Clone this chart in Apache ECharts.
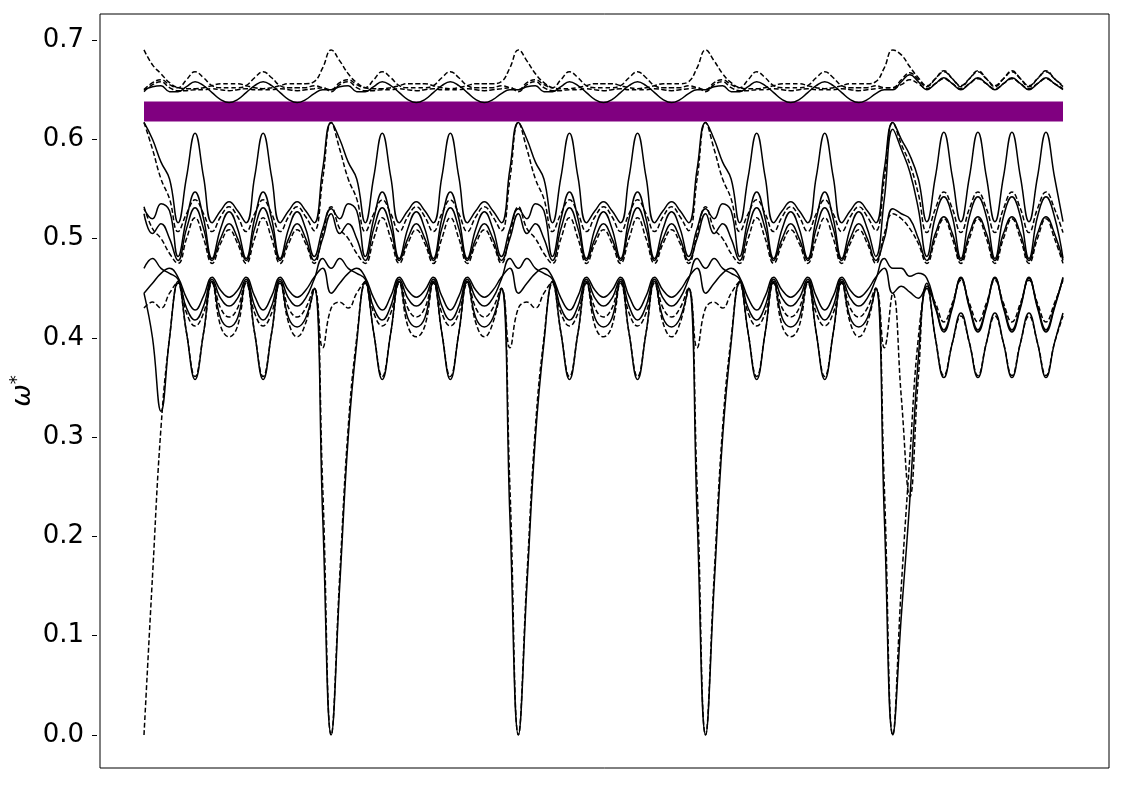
<!DOCTYPE html>
<html>
<head>
<meta charset="utf-8">
<script src="https://cdn.jsdelivr.net/npm/echarts@6/dist/echarts.min.js"></script>
<style>
html,body{margin:0;padding:0;background:#fff;}
#c{width:1125px;height:785px;}
</style>
</head>
<body>
<div id="c"></div>
<script>
// k-path sample index (Γ at 0, 22, 44, 66, 88)
const kPoints = [0,1,2,3,4,5,6,7,8,9,10,11,12,13,14,15,16,17,18,19,20,21,22,23,24,25,26,27,28,29,30,31,32,33,34,35,36,37,38,39,40,41,42,43,44,45,46,47,48,49,50,51,52,53,54,55,56,57,58,59,60,61,62,63,64,65,66,67,68,69,70,71,72,73,74,75,76,77,78,79,80,81,82,83,84,85,86,87,88,89,90,91,92,93,94,95,96,97,98,99,100,101,102,103,104,105,106,107,108];

const yTicks = [0.0, 0.1, 0.2, 0.3, 0.4, 0.5, 0.6, 0.7];
const bandGap = [0.618, 0.638];

// ---- upper bands ----
const U1 = [
0.650,0.653,0.654,0.648,0.648,0.653,0.658,0.654,0.647,0.640,0.637,0.640,0.647,0.654,0.658,0.654,0.647,0.640,0.637,0.640,0.646,0.650,
0.650,0.653,0.654,0.648,0.648,0.653,0.658,0.654,0.647,0.640,0.637,0.640,0.647,0.654,0.658,0.654,0.647,0.640,0.637,0.640,0.646,0.650,
0.650,0.653,0.654,0.648,0.648,0.653,0.658,0.654,0.647,0.640,0.637,0.640,0.647,0.654,0.658,0.654,0.647,0.640,0.637,0.640,0.646,0.650,
0.650,0.653,0.654,0.648,0.648,0.653,0.658,0.654,0.647,0.640,0.637,0.640,0.647,0.654,0.658,0.654,0.647,0.640,0.637,0.640,0.646,0.650,
0.650,0.658,0.665,0.658,0.650,0.656,0.662,0.656,0.650,0.656,0.662,0.656,0.650,0.656,0.662,0.656,0.650,0.656,0.662,0.656,0.650];
const U2 = [
0.650,0.657,0.660,0.655,0.652,0.660,0.668,0.662,0.654,0.652,0.652,0.652,0.654,0.662,0.668,0.662,0.654,0.652,0.652,0.652,0.654,0.652,
0.650,0.657,0.660,0.655,0.652,0.660,0.668,0.662,0.654,0.652,0.652,0.652,0.654,0.662,0.668,0.662,0.654,0.652,0.652,0.652,0.654,0.652,
0.650,0.657,0.660,0.655,0.652,0.660,0.668,0.662,0.654,0.652,0.652,0.652,0.654,0.662,0.668,0.662,0.654,0.652,0.652,0.652,0.654,0.652,
0.650,0.657,0.660,0.655,0.652,0.660,0.668,0.662,0.654,0.652,0.652,0.652,0.654,0.662,0.668,0.662,0.654,0.652,0.652,0.652,0.654,0.652,
0.652,0.660,0.667,0.660,0.653,0.661,0.669,0.661,0.653,0.661,0.669,0.661,0.653,0.661,0.669,0.661,0.653,0.661,0.669,0.661,0.653];
const U3 = [
0.690,0.675,0.666,0.657,0.652,0.651,0.651,0.652,0.654,0.656,0.656,0.656,0.654,0.652,0.651,0.652,0.654,0.656,0.656,0.656,0.658,0.672,
0.690,0.679,0.666,0.657,0.652,0.651,0.651,0.652,0.654,0.656,0.656,0.656,0.654,0.652,0.651,0.652,0.654,0.656,0.656,0.656,0.658,0.672,
0.690,0.679,0.666,0.657,0.652,0.651,0.651,0.652,0.654,0.656,0.656,0.656,0.654,0.652,0.651,0.652,0.654,0.656,0.656,0.656,0.658,0.672,
0.690,0.679,0.666,0.657,0.652,0.651,0.651,0.652,0.654,0.656,0.656,0.656,0.654,0.652,0.651,0.652,0.654,0.656,0.656,0.656,0.658,0.672,
0.690,0.685,0.673,0.662,0.654,0.661,0.668,0.661,0.654,0.661,0.668,0.661,0.654,0.661,0.668,0.661,0.654,0.661,0.668,0.661,0.654];
const U4 = [
0.648,0.655,0.658,0.652,0.649,0.649,0.650,0.650,0.651,0.650,0.649,0.650,0.651,0.650,0.650,0.650,0.651,0.650,0.649,0.650,0.651,0.652,
0.648,0.655,0.658,0.652,0.649,0.649,0.650,0.650,0.651,0.650,0.649,0.650,0.651,0.650,0.650,0.650,0.651,0.650,0.649,0.650,0.651,0.652,
0.648,0.655,0.658,0.652,0.649,0.649,0.650,0.650,0.651,0.650,0.649,0.650,0.651,0.650,0.650,0.650,0.651,0.650,0.649,0.650,0.651,0.652,
0.648,0.655,0.658,0.652,0.649,0.649,0.650,0.650,0.651,0.650,0.649,0.650,0.651,0.650,0.650,0.650,0.651,0.650,0.649,0.650,0.651,0.652,
0.652,0.655,0.660,0.656,0.651,0.656,0.661,0.656,0.651,0.656,0.661,0.656,0.651,0.656,0.661,0.656,0.651,0.656,0.661,0.656,0.651];

// ---- middle bands ----
const T = [
0.617,0.600,0.577,0.560,0.516,0.562,0.606,0.562,0.516,0.528,0.537,0.528,0.516,0.562,0.606,0.562,0.516,0.528,0.537,0.528,0.516,0.570,
0.617,0.600,0.577,0.560,0.516,0.562,0.606,0.562,0.516,0.528,0.537,0.528,0.516,0.562,0.606,0.562,0.516,0.528,0.537,0.528,0.516,0.570,
0.617,0.600,0.577,0.560,0.516,0.562,0.606,0.562,0.516,0.528,0.537,0.528,0.516,0.562,0.606,0.562,0.516,0.528,0.537,0.528,0.516,0.570,
0.617,0.600,0.577,0.560,0.516,0.562,0.606,0.562,0.516,0.528,0.537,0.528,0.516,0.562,0.606,0.562,0.516,0.528,0.537,0.528,0.516,0.570,
0.617,0.600,0.584,0.560,0.517,0.562,0.607,0.562,0.517,0.562,0.607,0.562,0.517,0.562,0.607,0.562,0.517,0.562,0.607,0.562,0.517];
const A = [
0.617,0.590,0.560,0.540,0.507,0.525,0.539,0.525,0.507,0.522,0.532,0.522,0.507,0.525,0.539,0.525,0.507,0.522,0.532,0.522,0.508,0.560,
0.617,0.590,0.560,0.540,0.507,0.525,0.539,0.525,0.507,0.522,0.532,0.522,0.507,0.525,0.539,0.525,0.507,0.522,0.532,0.522,0.508,0.560,
0.617,0.590,0.560,0.540,0.507,0.525,0.539,0.525,0.507,0.522,0.532,0.522,0.507,0.525,0.539,0.525,0.507,0.522,0.532,0.522,0.508,0.560,
0.617,0.590,0.560,0.540,0.507,0.525,0.539,0.525,0.507,0.522,0.532,0.522,0.507,0.525,0.539,0.525,0.507,0.522,0.532,0.522,0.508,0.560,
0.617,0.595,0.575,0.545,0.506,0.530,0.547,0.530,0.506,0.530,0.547,0.530,0.506,0.530,0.547,0.530,0.506,0.530,0.547,0.530,0.506];
const B = [
0.530,0.520,0.535,0.528,0.482,0.520,0.547,0.520,0.480,0.510,0.527,0.510,0.480,0.520,0.547,0.520,0.480,0.510,0.527,0.510,0.482,0.510,
0.530,0.520,0.535,0.528,0.482,0.520,0.547,0.520,0.480,0.510,0.527,0.510,0.480,0.520,0.547,0.520,0.480,0.510,0.527,0.510,0.482,0.510,
0.530,0.520,0.535,0.528,0.482,0.520,0.547,0.520,0.480,0.510,0.527,0.510,0.480,0.520,0.547,0.520,0.480,0.510,0.527,0.510,0.482,0.510,
0.530,0.520,0.535,0.528,0.482,0.520,0.547,0.520,0.480,0.510,0.527,0.510,0.480,0.520,0.547,0.520,0.480,0.510,0.527,0.510,0.482,0.540,
0.610,0.590,0.567,0.530,0.482,0.522,0.542,0.522,0.480,0.522,0.542,0.522,0.480,0.522,0.542,0.522,0.480,0.522,0.542,0.522,0.480];
const E = [
0.525,0.505,0.515,0.500,0.478,0.510,0.531,0.510,0.478,0.500,0.515,0.500,0.478,0.510,0.531,0.510,0.478,0.500,0.515,0.500,0.478,0.500,
0.525,0.505,0.515,0.500,0.478,0.510,0.531,0.510,0.478,0.500,0.515,0.500,0.478,0.510,0.531,0.510,0.478,0.500,0.515,0.500,0.478,0.500,
0.525,0.505,0.515,0.500,0.478,0.510,0.531,0.510,0.478,0.500,0.515,0.500,0.478,0.510,0.531,0.510,0.478,0.500,0.515,0.500,0.478,0.500,
0.525,0.505,0.515,0.500,0.478,0.510,0.531,0.510,0.478,0.500,0.515,0.500,0.478,0.510,0.531,0.510,0.478,0.500,0.515,0.500,0.478,0.500,
0.530,0.525,0.520,0.500,0.478,0.505,0.522,0.505,0.478,0.505,0.522,0.505,0.478,0.505,0.522,0.505,0.478,0.505,0.522,0.505,0.478];
const C = [
0.532,0.510,0.500,0.485,0.475,0.500,0.521,0.500,0.475,0.495,0.509,0.495,0.475,0.500,0.521,0.500,0.475,0.495,0.509,0.495,0.475,0.505,
0.532,0.510,0.500,0.485,0.475,0.500,0.521,0.500,0.475,0.495,0.509,0.495,0.475,0.500,0.521,0.500,0.475,0.495,0.509,0.495,0.475,0.505,
0.532,0.510,0.500,0.485,0.475,0.500,0.521,0.500,0.475,0.495,0.509,0.495,0.475,0.500,0.521,0.500,0.475,0.495,0.509,0.495,0.475,0.505,
0.532,0.510,0.500,0.485,0.475,0.500,0.521,0.500,0.475,0.495,0.509,0.495,0.475,0.500,0.521,0.500,0.475,0.495,0.509,0.495,0.475,0.505,
0.525,0.520,0.510,0.495,0.475,0.500,0.520,0.500,0.475,0.500,0.520,0.500,0.475,0.500,0.520,0.500,0.475,0.500,0.520,0.500,0.475];

// ---- lower bands ----
const L1 = [
0.445,0.455,0.465,0.470,0.461,0.440,0.428,0.442,0.461,0.448,0.441,0.448,0.461,0.442,0.428,0.442,0.461,0.448,0.441,0.448,0.461,0.470,
0.445,0.455,0.465,0.470,0.461,0.440,0.428,0.442,0.461,0.448,0.441,0.448,0.461,0.442,0.428,0.442,0.461,0.448,0.441,0.448,0.461,0.470,
0.445,0.455,0.465,0.470,0.461,0.440,0.428,0.442,0.461,0.448,0.441,0.448,0.461,0.442,0.428,0.442,0.461,0.448,0.441,0.448,0.461,0.470,
0.445,0.455,0.465,0.470,0.461,0.440,0.428,0.442,0.461,0.448,0.441,0.448,0.461,0.442,0.428,0.442,0.461,0.448,0.441,0.448,0.461,0.470,
0.445,0.452,0.446,0.440,0.452,0.430,0.406,0.430,0.461,0.430,0.406,0.430,0.461,0.430,0.406,0.430,0.461,0.430,0.406,0.430,0.461];
const L2 = [
0.470,0.480,0.470,0.465,0.459,0.430,0.418,0.432,0.459,0.440,0.432,0.440,0.459,0.432,0.418,0.432,0.459,0.440,0.432,0.440,0.459,0.480,
0.470,0.480,0.470,0.465,0.459,0.430,0.418,0.432,0.459,0.440,0.432,0.440,0.459,0.432,0.418,0.432,0.459,0.440,0.432,0.440,0.459,0.480,
0.470,0.480,0.470,0.465,0.459,0.430,0.418,0.432,0.459,0.440,0.432,0.440,0.459,0.432,0.418,0.432,0.459,0.440,0.432,0.440,0.459,0.480,
0.470,0.480,0.470,0.465,0.459,0.430,0.418,0.432,0.459,0.440,0.432,0.440,0.459,0.432,0.418,0.432,0.459,0.440,0.432,0.440,0.459,0.480,
0.470,0.470,0.462,0.465,0.460,0.432,0.408,0.432,0.460,0.432,0.408,0.432,0.460,0.432,0.408,0.432,0.460,0.432,0.408,0.432,0.460];
const L3 = [
0.430,0.436,0.430,0.445,0.456,0.425,0.412,0.425,0.456,0.430,0.421,0.430,0.456,0.425,0.412,0.425,0.456,0.430,0.421,0.430,0.450,0.390,
0.430,0.436,0.430,0.445,0.456,0.425,0.412,0.425,0.456,0.430,0.421,0.430,0.456,0.425,0.412,0.425,0.456,0.430,0.421,0.430,0.450,0.390,
0.430,0.436,0.430,0.445,0.456,0.425,0.412,0.425,0.456,0.430,0.421,0.430,0.456,0.425,0.412,0.425,0.456,0.430,0.421,0.430,0.450,0.390,
0.430,0.436,0.430,0.445,0.456,0.425,0.412,0.425,0.456,0.430,0.421,0.430,0.456,0.425,0.412,0.425,0.456,0.430,0.421,0.430,0.450,0.390,
0.445,0.340,0.240,0.360,0.450,0.435,0.416,0.435,0.458,0.435,0.416,0.435,0.458,0.435,0.416,0.435,0.458,0.435,0.416,0.435,0.458];
const L4 = [
0.445,0.400,0.326,0.400,0.457,0.405,0.358,0.405,0.457,0.420,0.411,0.420,0.457,0.405,0.358,0.405,0.457,0.420,0.411,0.420,0.450,0.220,
0.000,0.150,0.300,0.395,0.457,0.405,0.358,0.405,0.457,0.420,0.411,0.420,0.457,0.405,0.358,0.405,0.457,0.420,0.411,0.420,0.450,0.220,
0.000,0.150,0.300,0.395,0.457,0.405,0.358,0.405,0.457,0.420,0.411,0.420,0.457,0.405,0.358,0.405,0.457,0.420,0.411,0.420,0.450,0.220,
0.000,0.150,0.300,0.395,0.457,0.405,0.358,0.405,0.457,0.420,0.411,0.420,0.457,0.405,0.358,0.405,0.457,0.420,0.411,0.420,0.450,0.220,
0.000,0.120,0.237,0.380,0.455,0.400,0.360,0.395,0.425,0.395,0.360,0.395,0.425,0.395,0.360,0.395,0.425,0.395,0.360,0.395,0.425];
const L5 = [
0.000,0.160,0.310,0.400,0.455,0.405,0.361,0.405,0.455,0.412,0.401,0.412,0.455,0.405,0.361,0.405,0.455,0.415,0.401,0.415,0.450,0.250,
0.000,0.160,0.310,0.400,0.455,0.405,0.361,0.405,0.455,0.412,0.401,0.412,0.455,0.405,0.361,0.405,0.455,0.415,0.401,0.415,0.450,0.250,
0.000,0.160,0.310,0.400,0.455,0.405,0.361,0.405,0.455,0.412,0.401,0.412,0.455,0.405,0.361,0.405,0.455,0.415,0.401,0.415,0.450,0.250,
0.000,0.160,0.310,0.400,0.455,0.405,0.361,0.405,0.455,0.412,0.401,0.412,0.455,0.405,0.361,0.405,0.455,0.415,0.401,0.415,0.450,0.250,
0.000,0.150,0.280,0.400,0.450,0.400,0.362,0.395,0.422,0.395,0.362,0.395,0.422,0.395,0.362,0.395,0.422,0.395,0.362,0.395,0.422];

const bands = [
  {name:'U1', data:U1, dashed:false},
  {name:'U2', data:U2, dashed:true},
  {name:'U3', data:U3, dashed:true},
  {name:'U4', data:U4, dashed:true},
  {name:'T',  data:T,  dashed:false},
  {name:'A',  data:A,  dashed:true},
  {name:'B',  data:B,  dashed:false},
  {name:'E',  data:E,  dashed:false},
  {name:'C',  data:C,  dashed:true},
  {name:'L1', data:L1, dashed:false},
  {name:'L2', data:L2, dashed:false},
  {name:'L3', data:L3, dashed:true},
  {name:'L4', data:L4, dashed:false},
  {name:'L5', data:L5, dashed:true}
];

const chart = echarts.init(document.getElementById('c'), null, {renderer:'canvas'});

const series = bands.map(b => ({
  name: b.name,
  type: 'line',
  xAxisIndex: 0, yAxisIndex: 0,
  data: b.data,
  showSymbol: false,
  symbol: 'none',
  smooth: 0.45,
  clip: true,
  silent: true,
  z: 3,
  lineStyle: {color:'#000', width:1.5, type: b.dashed ? [5,2.5] : 'solid'}
}));

series.push({
  name: 'gap',
  type: 'line',
  xAxisIndex: 0, yAxisIndex: 0,
  data: [],
  silent: true,
  z: 2,
  markArea: {
    silent: true,
    itemStyle: {color:'#800080', opacity:1},
    data: [[{coord:[0, bandGap[0]]}, {coord:[kPoints.length-1, bandGap[1]]}]]
  }
});

chart.setOption({
  animation: false,
  backgroundColor: '#fff',
  grid: [
    {left:144, right:62, top:40, bottom:50, show:false},
    {left:97, right:16, top:14, bottom:17, show:true, borderColor:'#000', borderWidth:1, backgroundColor:'transparent', z:5}
  ],
  xAxis: [
    {type:'category', gridIndex:0, data:kPoints, boundaryGap:false, show:false},
    {type:'value', gridIndex:1, show:false, min:0, max:1}
  ],
  yAxis: [
    {type:'value', gridIndex:0, min:yTicks[0], max:yTicks[yTicks.length-1], interval:0.1, offset:47,
     axisLine:{show:false},
     axisTick:{show:true, inside:false, length:5, lineStyle:{color:'#000', width:1}},
     axisLabel:{show:true, color:'#000', fontSize:26, fontFamily:'DejaVu Sans', margin:13,
       formatter: v => v.toFixed(1)},
     splitLine:{show:false}},
    {type:'value', gridIndex:1, min:0, max:1, show:true,
     axisLine:{show:false}, axisTick:{show:false}, axisLabel:{show:false}, splitLine:{show:false},
     name:'{w|ω}{s|*}', nameLocation:'middle', nameRotate:90, nameGap:62,
     nameTextStyle:{
       rich:{
         w:{fontSize:27, fontStyle:'italic', fontFamily:'DejaVu Sans', color:'#000', lineHeight:30},
         s:{fontSize:18, fontFamily:'DejaVu Sans', color:'#000', verticalAlign:'top', lineHeight:30}
       }
     }}
  ],
  series: series
});
</script>
</body>
</html>
